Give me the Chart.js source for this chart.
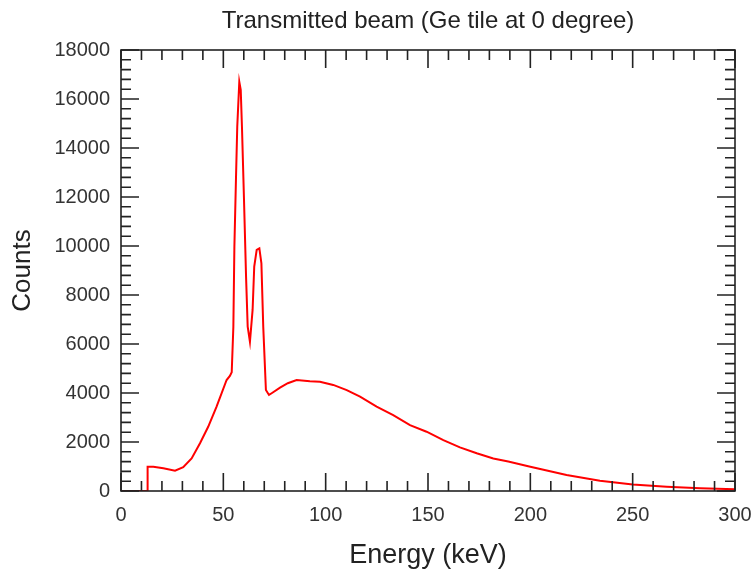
<!DOCTYPE html>
<html>
<head>
<meta charset="utf-8">
<script src="https://cdn.jsdelivr.net/npm/chart.js@4"></script>
<style>
  body { margin: 0; background: #fff; }
  #wrap { width: 753px; height: 573px; }
</style>
</head>
<body>
<div id="wrap"><canvas id="spectrumChart"></canvas></div>
<script>
const energy = [0, 12.8, 13.0, 15.8, 20.7, 26.4, 30.4, 34.5, 38.6, 42.6, 46.7, 51.6, 53.2, 54.1,
  54.9, 55.4, 56.2, 56.8, 57.8, 58.5, 59.1, 60.1, 61.1, 61.9, 63.0, 64.3, 65.1, 66.3, 67.6, 68.6,
  69.5, 70.8, 72.3, 73.6, 77.7, 81.5, 85.8, 92.3, 97.2, 103.7, 110.3, 116.8, 124.9, 133.0, 141.2,
  149.3, 157.5, 165.6, 173.8, 181.9, 189.2, 200, 217.7, 234, 250, 266.6, 283, 300];
const counts = [0, 0, 990, 990, 925, 830, 970, 1330, 1950, 2620, 3440, 4530, 4700, 4850,
  6700, 9970, 12830, 14870, 16700, 16370, 14870, 11880, 8750, 6710, 6090, 7390, 9160, 9840, 9900, 9290,
  6710, 4120, 3920, 3990, 4220, 4400, 4530, 4480, 4460, 4330, 4120, 3850, 3440, 3100, 2690,
  2420, 2080, 1780, 1540, 1330, 1200, 990, 650, 420, 270, 175, 110, 70];

const xTicks = [0, 50, 100, 150, 200, 250, 300];
const yTicks = [0, 2000, 4000, 6000, 8000, 10000, 12000, 14000, 16000, 18000];
const chartTitle = "Transmitted beam (Ge tile at 0 degree)";

Chart.defaults.font.family = "'Liberation Sans', Arial, sans-serif";
Chart.defaults.color = "#333";

// inward ticks on all four sides, frame, and title centred over the plot
const frameTicks = {
  id: "frameTicks",
  afterDraw(chart) {
    const {ctx, chartArea: a, scales: {x, y}} = chart;
    ctx.save();
    ctx.strokeStyle = "#222";
    ctx.lineWidth = 1.6;
    ctx.strokeRect(a.left, a.top, a.right - a.left, a.bottom - a.top);
    ctx.beginPath();
    for (let v = 0; v <= 300; v += 10) {
      const px = x.getPixelForValue(v);
      const len = v % 50 === 0 ? 18 : 10;
      ctx.moveTo(px, a.bottom); ctx.lineTo(px, a.bottom - len);
      ctx.moveTo(px, a.top); ctx.lineTo(px, a.top + len);
    }
    for (let v = 0; v <= 18000; v += 400) {
      const py = y.getPixelForValue(v);
      const len = v % 2000 === 0 ? 18 : 10;
      ctx.moveTo(a.left, py); ctx.lineTo(a.left + len, py);
      ctx.moveTo(a.right, py); ctx.lineTo(a.right - len, py);
    }
    ctx.stroke();

    ctx.fillStyle = "#222";
    ctx.font = "24px 'Liberation Sans', Arial, sans-serif";
    ctx.textAlign = "center";
    ctx.textBaseline = "middle";
    ctx.fillText(chartTitle, (a.left + a.right) / 2, 21);
    ctx.restore();
  }
};

new Chart(document.getElementById("spectrumChart"), {
  type: "scatter",
  data: {
    datasets: [{
      data: energy.map((e, i) => ({x: e, y: counts[i]})),
      showLine: true,
      borderColor: "#ff0000",
      borderWidth: 2,
      pointRadius: 0,
      tension: 0
    }]
  },
  options: {
    responsive: true,
    maintainAspectRatio: false,
    animation: false,
    layout: {padding: {left: 0, right: 18, top: 50, bottom: 0}},
    plugins: {
      legend: {display: false},
      tooltip: {enabled: false},
      title: {display: false}
    },
    scales: {
      x: {
        type: "linear",
        min: 0, max: 300,
        afterBuildTicks: s => { s.ticks = xTicks.map(v => ({value: v})); },
        afterFit: s => { s.height = 82; s.paddingLeft = 0; s.paddingRight = 0; },
        grid: {display: false, drawTicks: false},
        border: {display: false},
        ticks: {font: {size: 20}, padding: 12, color: "#333", maxRotation: 0, callback: v => String(v)},
        title: {display: true, text: "Energy (keV)", color: "#222", font: {size: 27}, padding: {top: 0, bottom: 1}}
      },
      y: {
        type: "linear",
        min: 0, max: 18000,
        afterBuildTicks: s => { s.ticks = yTicks.map(v => ({value: v})); },
        afterFit: s => { s.width = 121; },
        grid: {display: false, drawTicks: false},
        border: {display: false},
        ticks: {font: {size: 20}, padding: 11, color: "#333", callback: v => String(v)},
        title: {display: true, text: "Counts", color: "#222", font: {size: 26}, padding: {top: 7, bottom: 0}}
      }
    }
  },
  plugins: [frameTicks]
});
</script>
</body>
</html>
